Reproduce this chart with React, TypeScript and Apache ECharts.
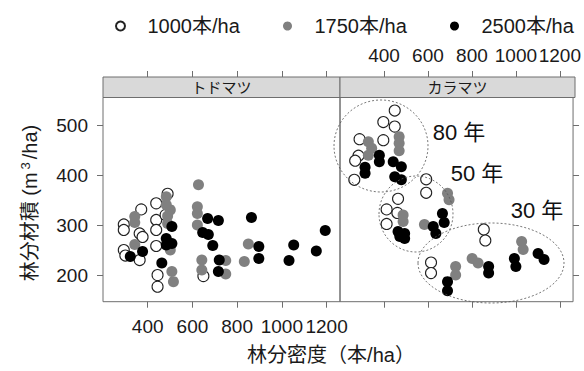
import React, { useEffect, useRef } from "react";
import * as echarts from "echarts";

// ---------- data (x = 林分密度 本/ha, y = 林分材積 m3/ha) ----------
const panelNames = ["トドマツ", "カラマツ"];
const seriesNames = ["1000本/ha", "1750本/ha", "2500本/ha"];
const xTicks = [400, 600, 800, 1000, 1200];
const yTicks = [200, 300, 400, 500];

// トドマツ
const todo1000 = [
  [293, 302], [293, 291], [293, 251], [300, 240], [364, 231], [371, 332],
  [364, 284], [377, 277], [438, 344], [438, 311], [438, 291], [438, 259],
  [444, 201], [444, 178], [489, 363], [480, 321], [649, 199],
];
const todo1750 = [
  [342, 318], [342, 306], [342, 262], [483, 357], [483, 341], [501, 331],
  [489, 319], [489, 304], [501, 251], [508, 208], [515, 188], [627, 381],
  [622, 337], [622, 324], [622, 301], [642, 231], [642, 211], [749, 230],
  [749, 203], [850, 263], [832, 228],
];
const todo2500 = [
  [322, 238], [377, 248], [463, 225], [508, 298], [483, 274], [483, 261],
  [508, 264], [668, 314], [716, 310], [646, 286], [671, 282], [691, 260],
  [720, 231], [716, 208], [864, 316], [897, 258], [897, 234], [1053, 261],
  [1032, 230], [1154, 249], [1194, 290],
];
// カラマツ
const kara1000 = [
  [449, 529], [397, 506], [449, 497], [289, 472], [397, 470], [284, 439],
  [269, 429], [265, 391], [592, 392], [592, 365], [464, 353], [412, 332],
  [461, 325], [412, 303], [614, 226], [614, 205], [854, 292], [861, 270],
];
const kara1750 = [
  [329, 467], [344, 454], [329, 440], [469, 477], [469, 464], [469, 449],
  [689, 364], [696, 351], [487, 321], [487, 308], [584, 302], [726, 218],
  [726, 201], [801, 234], [828, 225], [1026, 268], [1033, 252],
];
const kara2500 = [
  [379, 440], [379, 427], [314, 416], [314, 404], [442, 427], [479, 417],
  [449, 397], [479, 391], [666, 324], [674, 306], [624, 298], [636, 284],
  [464, 288], [494, 284], [472, 278], [494, 274], [689, 188], [689, 170],
  [876, 218], [876, 205], [993, 234], [1000, 218], [1101, 244], [1128, 232],
];
const ageLabels = ["80 年", "50 年", "30 年"];

const FONT = "'Liberation Sans', 'Noto Sans CJK JP', sans-serif";
const AXIS_GRAY = "#6e6e6e";
const TEXT = "#1a1a1a";

export default function App() {
  const ref = useRef<HTMLDivElement>(null);

  useEffect(() => {
    if (!ref.current) return;
    const chart = echarts.init(ref.current, null, { renderer: "svg" });

    const tickStyle = { show: true, length: 6, inside: false, lineStyle: { color: AXIS_GRAY, width: 1 } };
    const labelStyle = { fontSize: 19, color: TEXT, fontFamily: FONT };

    const xAxisBase = (gridIndex: number, position: string, showLabel: boolean, extra: any = {}) => ({
      type: "value",
      gridIndex,
      position,
      min: 200,
      max: 1260,
      interval: 200,
      axisLine: { show: false },
      splitLine: { show: false },
      axisTick: { ...tickStyle, customValues: xTicks },
      axisLabel: {
        show: showLabel,
        customValues: xTicks,
        hideOverlap: false,
        formatter: (v: number) => String(v),
        ...labelStyle,
        margin: position === "top" ? 12 : 15,
      },
      ...extra,
    });

    const yAxisBase = (gridIndex: number, position: string, showLabel: boolean) => ({
      type: "value",
      gridIndex,
      position,
      min: 148,
      max: 555,
      axisLine: { show: false },
      splitLine: { show: false },
      axisTick: { ...tickStyle, customValues: yTicks },
      axisLabel: {
        show: showLabel,
        customValues: yTicks,
        hideOverlap: false,
        formatter: (v: number) => String(v),
        ...labelStyle,
        margin: 15,
      },
    });

    const styles = [
      { color: "#ffffff", borderColor: "#222222", borderWidth: 1.1, opacity: 1 },
      { color: "#808080", borderColor: "#808080", borderWidth: 0, opacity: 1 },
      { color: "#000000", borderColor: "#000000", borderWidth: 0, opacity: 1 },
    ];

    const makeSeries = (name: string, data: number[][], idx: number, grid: number) => ({
      type: "scatter",
      name,
      data,
      xAxisIndex: grid === 0 ? 0 : 2,
      yAxisIndex: grid,
      symbol: "circle",
      symbolSize: 11,
      itemStyle: styles[idx],
      z: 2 + idx,
    });

    const stripTop = 77;
    const stripH = 20.5;
    const panels = [
      { x: 103, w: 237 },
      { x: 340, w: 235 },
    ];

    const graphic: any[] = [];
    panels.forEach((p, i) => {
      graphic.push({
        type: "rect",
        shape: { x: p.x, y: stripTop, width: p.w, height: stripH },
        style: { fill: "#d9d9d9", stroke: AXIS_GRAY, lineWidth: 1 },
        z: 1,
      });
      graphic.push({
        type: "text",
        x: p.x + p.w / 2,
        y: stripTop + stripH / 2,
        style: {
          text: panelNames[i],
          fontSize: 15,
          fill: TEXT,
          fontFamily: FONT,
          textAlign: "center",
          textVerticalAlign: "middle",
        },
        z: 2,
      });
    });

    const ellipses = [
      { cx: 381, cy: 146, rx: 47, ry: 46 },
      { cx: 416, cy: 214, rx: 37, ry: 38 },
      { cx: 491, cy: 263, rx: 73, ry: 40 },
    ];
    ellipses.forEach((e) => {
      graphic.push({
        type: "ellipse",
        shape: e,
        style: { fill: "none", stroke: "#555", lineWidth: 0.8, lineDash: [2, 2] },
        z: 10,
      });
    });
    const agePos = [
      { x: 459, y: 132 },
      { x: 477, y: 173 },
      { x: 537, y: 210 },
    ];
    ageLabels.forEach((t, i) => {
      graphic.push({
        type: "text",
        x: agePos[i].x,
        y: agePos[i].y,
        style: {
          text: t,
          fontSize: 22,
          fill: "#111",
          fontFamily: FONT,
          textAlign: "center",
          textVerticalAlign: "middle",
        },
        z: 10,
      });
    });
    // x-axis title
    graphic.push({
      type: "text",
      x: 331,
      y: 355,
      style: {
        text: "林分密度（本/ha）",
        fontSize: 20,
        fill: TEXT,
        fontFamily: FONT,
        textAlign: "center",
        textVerticalAlign: "middle",
      },
    });
    // y-axis title
    graphic.push({
      type: "text",
      x: 30,
      y: 203,
      rotation: Math.PI / 2,
      style: {
        text: "林分材積 (m{sup|3}/ha)",
        fontSize: 20,
        fill: TEXT,
        fontFamily: FONT,
        textAlign: "center",
        textVerticalAlign: "middle",
        rich: {
          sup: { fontSize: 13, fill: TEXT, fontFamily: FONT, verticalAlign: "top", padding: [0, 3, 10, 3] },
        },
      },
    });

    const legendLefts = [110, 278, 445];
    const legend = seriesNames.map((n, i) => ({
      data: [n],
      top: 11,
      left: legendLefts[i],
      itemWidth: 44,
      itemHeight: 9,
      icon: "circle",
      textStyle: { fontSize: 20, color: TEXT, fontFamily: FONT },
    }));

    chart.setOption({
      animation: false,
      backgroundColor: "#ffffff",
      legend,
      grid: [
        { left: 103, width: 237, top: 97.5, height: 204.2, show: true, borderColor: AXIS_GRAY, borderWidth: 1, containLabel: false },
        { left: 340, width: 235, top: 97.5, height: 204.2, show: true, borderColor: AXIS_GRAY, borderWidth: 1, containLabel: false },
      ],
      xAxis: [
        xAxisBase(0, "bottom", true),
        xAxisBase(0, "top", false, { offset: 20.5 }),
        xAxisBase(1, "bottom", false),
        xAxisBase(1, "top", true, { offset: 20.5 }),
      ],
      yAxis: [yAxisBase(0, "left", true), yAxisBase(1, "right", false)],
      series: [
        makeSeries(seriesNames[0], todo1000, 0, 0),
        makeSeries(seriesNames[1], todo1750, 1, 0),
        makeSeries(seriesNames[2], todo2500, 2, 0),
        makeSeries(seriesNames[0], kara1000, 0, 1),
        makeSeries(seriesNames[1], kara1750, 1, 1),
        makeSeries(seriesNames[2], kara2500, 2, 1),
      ],
      graphic,
    });

    return () => chart.dispose();
  }, []);

  return (
    <div
      ref={ref}
      style={{ position: "fixed", left: 0, top: 0, width: 584, height: 371, background: "#fff" }}
    />
  );
}
